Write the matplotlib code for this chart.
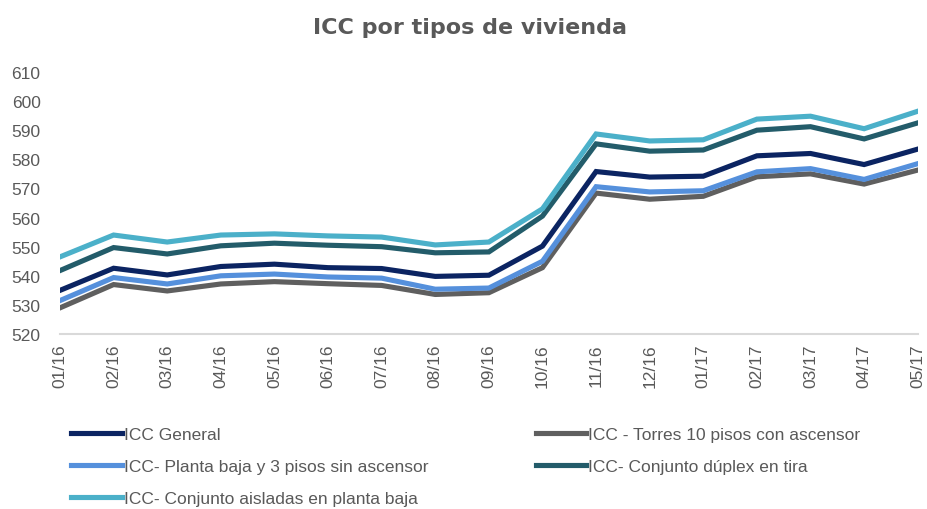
import matplotlib
matplotlib.use("Agg")
import matplotlib.pyplot as plt

months = ["01/16", "02/16", "03/16", "04/16", "05/16", "06/16", "07/16", "08/16", "09/16",
          "10/16", "11/16", "12/16", "01/17", "02/17", "03/17", "04/17", "05/17"]

icc_general = [535.0, 542.6, 540.3, 543.2, 544.0, 542.8, 542.5, 539.8, 540.2,
               550.2, 575.8, 573.9, 574.2, 581.2, 582.0, 578.2, 583.5]
icc_torres = [529.0, 537.0, 534.8, 537.2, 538.0, 537.3, 536.7, 533.6, 534.2,
              542.8, 568.4, 566.3, 567.3, 574.0, 575.0, 571.5, 576.3]
icc_planta = [531.5, 539.4, 537.2, 540.0, 540.6, 539.6, 539.2, 535.4, 535.8,
              545.0, 570.6, 568.8, 569.2, 575.7, 576.8, 573.1, 578.5]
icc_duplex = [541.8, 549.7, 547.5, 550.3, 551.2, 550.5, 550.0, 547.9, 548.2,
              560.5, 585.3, 582.8, 583.2, 590.0, 591.2, 587.0, 592.5]
icc_aisladas = [546.5, 554.0, 551.6, 554.0, 554.4, 553.7, 553.3, 550.6, 551.6,
                563.0, 588.7, 586.3, 586.7, 593.8, 594.8, 590.5, 596.5]

series_labels = ["ICC General", "ICC - Torres 10 pisos con ascensor",
                 "ICC- Planta baja y 3 pisos sin ascensor", "ICC- Conjunto dúplex en tira",
                 "ICC- Conjunto aisladas en planta baja"]
colors = ["#0b2462", "#5f5f5f", "#5590dc", "#235c6a", "#4bb0c9"]

y_ticks = [520, 530, 540, 550, 560, 570, 580, 590, 600, 610]

font = "Liberation Sans"

fig = plt.figure(figsize=(9.27, 5.10), dpi=100)
ax = fig.add_axes([0.0647, 0.343, 0.9253, 0.514])

data = [icc_general, icc_torres, icc_planta, icc_duplex, icc_aisladas]
x = list(range(len(months)))
handles = []
for vals, lab, c in zip(data, series_labels, colors):
    h, = ax.plot(x, vals, color=c, lw=3.7, label=lab, solid_joinstyle="miter")
    handles.append(h)

ax.set_xlim(0, len(months) - 1)
ax.set_ylim(520, 610)
ax.set_yticks(y_ticks)
ax.set_yticklabels([str(t) for t in y_ticks], fontsize=12.5, color="#595959", fontname=font)
ax.set_xticks(x)
ax.set_xticklabels(months, rotation=90, fontsize=12.5, color="#595959", fontname=font)
ax.tick_params(axis="both", length=0)
ax.tick_params(axis="y", pad=14)
ax.tick_params(axis="x", pad=7)
for s in ["top", "right", "left"]:
    ax.spines[s].set_visible(False)
ax.spines["bottom"].set_color("#d9d9d9")
ax.spines["bottom"].set_linewidth(1.5)

fig.text(0.507, 0.945, "ICC por tipos de vivienda", ha="center", va="center",
         fontsize=16, fontweight="bold", color="#595959", fontname="DejaVu Sans")

order = [0, 2, 4, 1, 3]
leg = fig.legend([handles[i] for i in order], [series_labels[i] for i in order],
                 ncol=2, loc="upper left", bbox_to_anchor=(0.064, 0.184),
                 frameon=False, handlelength=2.9, handletextpad=0.12,
                 columnspacing=6.2, labelspacing=0.95, borderpad=0.2,
                 prop={"family": font, "size": 12.5})
for t in leg.get_texts():
    t.set_color("#595959")

fig.savefig("out.png", dpi=100)
